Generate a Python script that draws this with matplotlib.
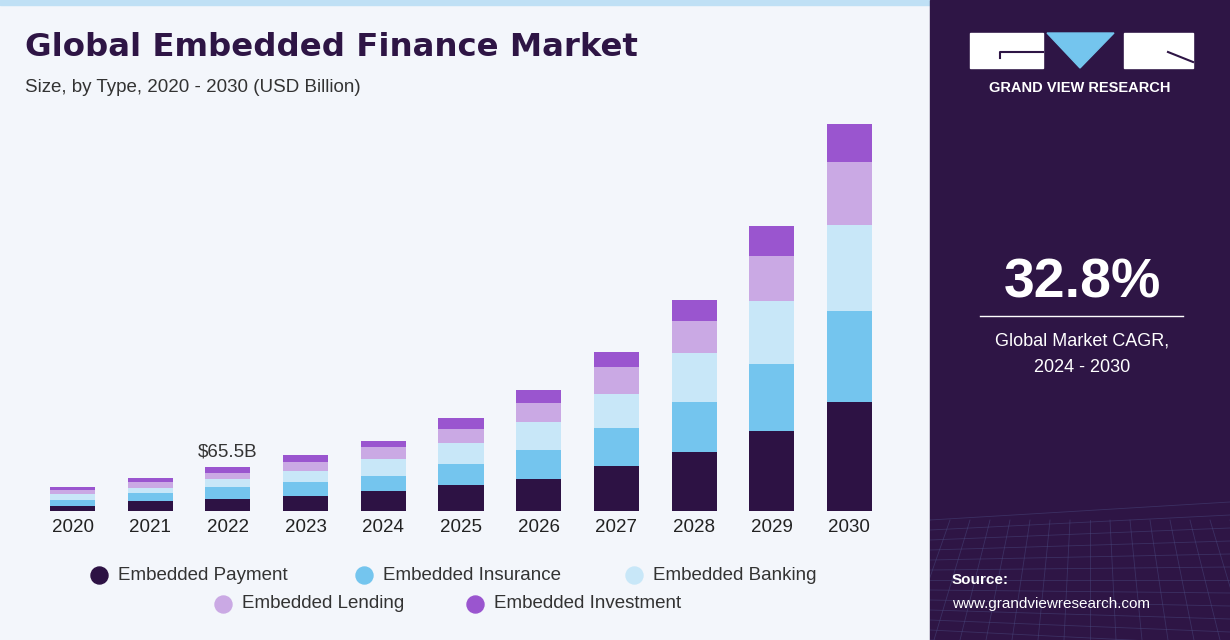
import matplotlib
matplotlib.use("Agg")
import matplotlib.pyplot as plt
from matplotlib.patches import Rectangle, Polygon
import numpy as np

years = ["2020","2021","2022","2023","2024","2025","2026","2027","2028","2029","2030"]
payment    = [7.4,14.9,17.9,22.3,29.8,38.7,47.6,67.0,87.8,119.1,162.3]
insurance  = [8.9,11.9,17.9,20.8,22.3,31.3,43.2,56.6,74.4,99.8,135.5]
banking    = [8.9,7.4,11.9,16.4,25.3,31.3,41.7,50.6,73.0,93.8,128.0]
lending    = [6.0,8.9,8.9,13.4,17.9,20.8,28.3,40.2,47.6,67.0,93.8]
investment = [4.5,6.0,8.9,10.4,8.9,16.4,19.4,22.3,31.3,44.7,56.6]
series_names = ["Embedded Payment","Embedded Insurance","Embedded Banking","Embedded Lending","Embedded Investment"]
colors = ["#2d1244","#74c5ee","#c8e7f8","#caa9e4","#9a55cf"]
annot_year, annot_text = "2022", "$65.5B"

W, H = 1230, 640
fig = plt.figure(figsize=(W/100, H/100), dpi=100)
fig.patch.set_facecolor("#f3f6fb")
bg = fig.add_axes([0,0,1,1]); bg.set_xlim(0,W); bg.set_ylim(H,0); bg.axis("off")
bg.add_patch(Rectangle((0,0),930,5,color="#bfe0f5"))
bg.add_patch(Rectangle((930,0),300,640,color="#2e1545"))
clip = Rectangle((930,500),300,140,transform=bg.transData)
for i in range(0,13):
    l, = bg.plot([930,1230],[520+i*10,520+i*10+(i-6)*3],color="#4a4a80",lw=0.6,alpha=0.5)
    l.set_clip_path(clip)
for i in range(0,16):
    l, = bg.plot([930+i*20,930+i*20+(i-8)*6],[520,640],color="#4a4a80",lw=0.6,alpha=0.5)
    l.set_clip_path(clip)
# logo
bg.add_patch(Rectangle((970,33),73,35,color="white"))
bg.add_patch(Polygon([[1047,33],[1114,33],[1080,68]],color="#74c5ee"))
bg.add_patch(Rectangle((1124,33),69,35,color="white"))
bg.plot([1000,1000,1043],[58,52,52],color="#2e1545",lw=1.5)
bg.plot([1168,1193],[52,62],color="#2e1545",lw=1.5)
bg.text(1080,88,"GRAND VIEW RESEARCH",color="white",fontsize=10.5,fontweight="bold",ha="center",va="center",family="Liberation Sans")
bg.text(1082,284,"32.8%",color="white",fontsize=40,fontweight="bold",ha="center",va="center",family="Liberation Sans")
bg.plot([980,1183],[316,316],color="white",lw=1)
bg.text(1082,341,"Global Market CAGR,",color="white",fontsize=13,ha="center",va="center",family="Liberation Sans")
bg.text(1082,368,"2024 - 2030",color="white",fontsize=13,ha="center",va="center",family="Liberation Sans")
bg.text(952,580,"Source:",color="white",fontsize=11,fontweight="bold",ha="left",va="center",family="Liberation Sans")
bg.text(952,604,"www.grandviewresearch.com",color="white",fontsize=11,ha="left",va="center",family="Liberation Sans")
bg.text(25,48,"Global Embedded Finance Market",color="#2e1545",fontsize=23.3,fontweight="heavy",ha="left",va="center",family="DejaVu Sans")
bg.text(25,87,"Size, by Type, 2020 - 2030 (USD Billion)",color="#333333",fontsize=13.5,ha="left",va="center",family="Liberation Sans")

ax = fig.add_axes([26/W, (H-511)/H, 870/W, 411/H])
ax.set_facecolor("none")
x = np.arange(len(years))
bottom = np.zeros(len(years))
for vals, c, n in zip([payment,insurance,banking,lending,investment], colors, series_names):
    ax.bar(x, vals, 0.58, bottom=bottom, color=c, label=n)
    bottom += np.array(vals)
ax.set_ylim(0, 612)
ax.set_xlim(-0.6, len(years)-0.4)
i = years.index(annot_year)
ax.text(x[i], bottom[i]+10, annot_text, ha="center", va="bottom", fontsize=13.5, color="#333333", family="Liberation Sans")
ax.set_xticks(x); ax.set_xticklabels(years, fontsize=13.5, color="#222222", family="Liberation Sans")
ax.tick_params(axis="x", length=0, pad=6)
ax.set_yticks([])
for s in ax.spines.values(): s.set_visible(False)

row1 = [(90,0),(355,1),(625,2)]
row2 = [(214,3),(466,4)]
for (px,k),yy in [(r,575) for r in row1]+[(r,604) for r in row2]:
    bg.scatter([px+9],[yy],s=150,color=colors[k],zorder=5)
    bg.text(px+28,yy,series_names[k],fontsize=13.5,color="#333333",ha="left",va="center",family="Liberation Sans")

fig.savefig("out.png", dpi=100, facecolor=fig.get_facecolor())
